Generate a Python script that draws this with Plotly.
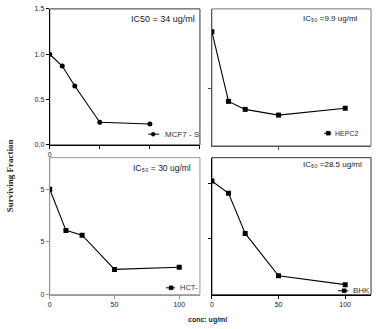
import plotly.graph_objects as go

# ---- data ----
conc = [0, 12.5, 25, 50, 100]
cell_lines = ["MCF7 - S", "HEPC2", "HCT-", "BHK"]
mcf7 = [1.0, 0.87, 0.65, 0.25, 0.23]
hepc2 = [1.0, 0.39, 0.32, 0.27, 0.33]
hct = [1.0, 0.61, 0.565, 0.24, 0.26]
bhk = [1.02, 0.91, 0.55, 0.17, 0.09]
ic50_labels = ["IC50 = 34 ug/ml", "IC\u2085\u2080 =9.9 ug/ml",
               "IC\u2085\u2080 = 30 ug/ml", "IC\u2085\u2080 =28.5 ug/ml"]

W, H = 376, 329
def px(x): return x / W
def py(y): return 1 - y / H

FONT = "Arial, Liberation Sans, sans-serif"
fig = go.Figure()

series = [mcf7, hepc2, hct, bhk]
symbols = ["circle", "square", "square", "square"]
axn = ["", "2", "3", "4"]
for s, sym, a, nm in zip(series, symbols, axn, cell_lines):
    fig.add_trace(go.Scatter(x=conc, y=s, mode="lines+markers", name=nm,
                             xaxis="x" + a, yaxis="y" + a, showlegend=False,
                             line=dict(color="black", width=1.1),
                             marker=dict(symbol=sym, size=5, color="black")))

# panel boxes (pixels: left, top, right, bottom)
boxes = [(48, 5, 199, 144), (211, 5, 371, 145), (48, 157, 199, 297), (211, 157, 371, 297)]
xranges = [[0, 150], [0, 119.4], [0, 116], [0, 119.4]]
yranges = [[0, 1.5], [0, 1.2], [0, 1.3], [0, 1.23]]
frame_col = ["#333", "#777", "#999", "#333"]
axis_col = ["black", "#555", "#999", "black"]

tickfont = dict(family=FONT, size=7, color="#222")
# labelled ticks, plus unlabelled (minor) ticks
xt = [dict(tickvals=[0], ticktext=["0"], showticklabels=True, minor_vals=[50, 100, 150]),
      dict(tickvals=[50], ticktext=["50"], showticklabels=False, minor_vals=None),
      dict(tickvals=[0, 50, 100], ticktext=["0", "50", "100"], showticklabels=True, minor_vals=None),
      dict(tickvals=[0, 50, 100], ticktext=["0", "50", "100"], showticklabels=True, minor_vals=None)]
yt = [dict(tickvals=[0, 0.5, 1.0, 1.5], ticktext=["0.0", "0.5", "1.0", "1.5"], showticklabels=True),
      dict(tickvals=[0.5], ticktext=["0.5"], showticklabels=False),
      dict(tickvals=[0, 0.5, 1.0], ticktext=["0", "5", "5"], showticklabels=True),
      dict(tickvals=[0.5, 1.0], ticktext=["0.5", "1.0"], showticklabels=False)]

layout = dict(width=W, height=H, margin=dict(l=0, r=0, t=0, b=0),
              paper_bgcolor="white", plot_bgcolor="white", showlegend=False)
shapes = []
for i, (b, a) in enumerate(zip(boxes, axn)):
    l, t, r, bt = b
    xa = dict(domain=[px(l), px(r)], range=xranges[i], anchor="y" + a,
              showgrid=False, zeroline=False, showline=True,
              linecolor=axis_col[i], linewidth=1, ticks="outside",
              ticklen=3, tickwidth=1, tickcolor=axis_col[i], tickfont=tickfont,
              tickmode="array", tickvals=xt[i]["tickvals"], ticktext=xt[i]["ticktext"],
              showticklabels=xt[i]["showticklabels"])
    if xt[i]["minor_vals"]:
        xa["minor"] = dict(tickmode="array", tickvals=xt[i]["minor_vals"], ticks="outside",
                           ticklen=3, tickwidth=1, tickcolor=axis_col[i], showgrid=False)
    layout["xaxis" + a] = xa
    layout["yaxis" + a] = dict(domain=[py(bt), py(t)], range=yranges[i], anchor="x" + a,
                               showgrid=False, zeroline=False, showline=True,
                               linecolor=axis_col[i], linewidth=1, ticks="outside",
                               ticklen=3, tickwidth=1, tickcolor=axis_col[i],
                               tickfont=tickfont, tickmode="array",
                               tickvals=yt[i]["tickvals"], ticktext=yt[i]["ticktext"],
                               showticklabels=yt[i]["showticklabels"])
    shapes.append(dict(type="rect", xref="paper", yref="paper", x0=px(l), x1=px(r),
                       y0=py(bt), y1=py(t), line=dict(color=frame_col[i], width=1),
                       layer="below"))

annotations = []
# IC50 labels
ic_pos = [(128, 15, 9), (301, 15, 8), (130, 168, 8.5), (301, 164, 8)]
for txt, (x, y, fs) in zip(ic50_labels, ic_pos):
    annotations.append(dict(text=txt, x=px(x), y=py(y), xref="paper", yref="paper",
                            xanchor="left", yanchor="middle", showarrow=False,
                            font=dict(family=FONT, size=fs, color="#222")))

# manual legend entries: (line x0, x1, marker x, symbol, y, text x, font size)
leg = [(147, 158, 152, "circle", 133, 162, 8),
       (324, 331, 328, "square", 132, 333, 7),
       (165, 174, 170, "square", 290, 177, 7.5),
       (338, 348, 344, "square", 293, 351, 8)]
for nm, (x0, x1, mx, sym, y, tx, fs) in zip(cell_lines, leg):
    shapes.append(dict(type="line", xref="paper", yref="paper", x0=px(x0), x1=px(x1),
                       y0=py(y), y1=py(y), line=dict(color="black", width=1)))
    shapes.append(dict(type="circle" if sym == "circle" else "rect", xref="paper",
                       yref="paper", x0=px(mx - 2), x1=px(mx + 2), y0=py(y + 2),
                       y1=py(y - 2), fillcolor="black", line=dict(color="black", width=0.5)))
    annotations.append(dict(text=nm, x=px(tx), y=py(y), xref="paper", yref="paper",
                            xanchor="left", yanchor="middle", showarrow=False,
                            font=dict(family=FONT, size=fs, color="#333")))

# axis titles
annotations.append(dict(text="<b>Surviving Fraction</b>", x=px(8), y=py(175), xref="paper",
                        yref="paper", textangle=-90, showarrow=False,
                        xanchor="center", yanchor="middle",
                        font=dict(family="Liberation Serif, Times New Roman, serif",
                                  size=9, color="#222")))
annotations.append(dict(text="<b>conc: ug/ml</b>", x=px(207), y=py(323), xref="paper",
                        yref="paper", showarrow=False, xanchor="center", yanchor="middle",
                        font=dict(family=FONT, size=7, color="#222")))

layout["shapes"] = shapes
layout["annotations"] = annotations
fig.update_layout(**layout)
fig.write_html("out.html")
